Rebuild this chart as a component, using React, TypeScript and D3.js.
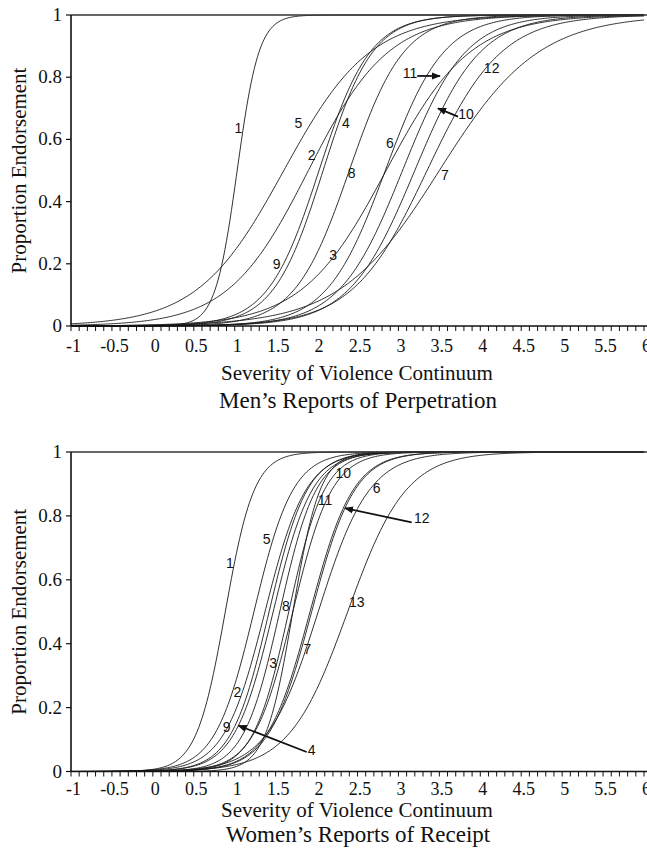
import React, { useEffect, useRef } from "react";
import * as d3 from "d3";

// item characteristic curves: location (P = .5) and slope per item
const MEN_ITEMS = ["1", "2", "3", "4", "5", "6", "7", "8", "9", "10", "11", "12"];
const MEN_LOCATION = [1.03, 1.9, 2.85, 2.08, 1.6, 2.84, 3.5, 2.4, 2.03, 3.2, 3.05, 3.35];
const MEN_SLOPE = [7.5, 2.05, 1.95, 3.3, 1.9, 2.8, 1.65, 3.0, 3.2, 2.5, 2.6, 2.2];
const MEN_LABEL_AT: [number, number][] = [
  [1.044, 0.636], [1.94, 0.55], [2.204, 0.228], [2.359, 0.652], [1.777, 0.652], [2.897, 0.589],
  [3.569, 0.486], [2.429, 0.493], [1.513, 0.199], [3.825, 0.682], [3.141, 0.813], [4.139, 0.829],
];
const MEN_ARROWS: [number, number, number, number][] = [
  [3.23, 0.804, 3.508, 0.804],
  [3.728, 0.673, 3.483, 0.7],
];

const WOMEN_ITEMS = ["1", "2", "3", "4", "5", "6", "7", "8", "9", "10", "11", "12", "13"];
const WOMEN_LOCATION = [0.885, 1.37, 1.71, 1.47, 1.235, 2.02, 1.92, 1.55, 1.42, 1.66, 1.71, 1.94, 2.38];
const WOMEN_SLOPE = [5.65, 4.0, 4.2, 4.2, 4.2, 3.2, 3.8, 4.5, 4.3, 4.6, 6.0, 3.8, 2.8];
const WOMEN_LABEL_AT: [number, number][] = [
  [0.942, 0.654], [1.032, 0.249], [1.471, 0.341], [1.94, 0.066], [1.391, 0.729], [2.734, 0.886],
  [1.887, 0.385], [1.626, 0.518], [0.902, 0.139], [2.326, 0.933], [2.103, 0.85], [3.284, 0.792],
  [2.49, 0.531],
];
const WOMEN_ARROWS: [number, number, number, number][] = [
  [3.162, 0.78, 2.347, 0.824],
  [1.879, 0.061, 1.044, 0.144],
];

const X_LABELS = [-1, -0.5, 0, 0.5, 1, 1.5, 2, 2.5, 3, 3.5, 4, 4.5, 5, 5.5, 6];
const Y_LABELS = [0, 0.2, 0.4, 0.6, 0.8, 1];

const SERIF = "'Liberation Serif', 'Times New Roman', serif";
const SANS = "'Liberation Sans', Arial, sans-serif";

type Panel = {
  items: string[];
  loc: number[];
  slope: number[];
  labelAt: [number, number][];
  arrows: [number, number, number, number][];
  top: number;
  bottom: number;
  tickBase: number;
  axisTitleBase: number;
  titleBase: number;
  title: string;
};

const PANELS: Panel[] = [
  {
    items: MEN_ITEMS, loc: MEN_LOCATION, slope: MEN_SLOPE, labelAt: MEN_LABEL_AT, arrows: MEN_ARROWS,
    top: 15, bottom: 326, tickBase: 352, axisTitleBase: 380, titleBase: 408,
    title: "Men\u2019s Reports of Perpetration",
  },
  {
    items: WOMEN_ITEMS, loc: WOMEN_LOCATION, slope: WOMEN_SLOPE, labelAt: WOMEN_LABEL_AT, arrows: WOMEN_ARROWS,
    top: 452, bottom: 771.5, tickBase: 795, axisTitleBase: 817, titleBase: 842,
    title: "Women\u2019s Reports of Receipt",
  },
];

export default function App() {
  const svgRef = useRef<SVGSVGElement | null>(null);

  useEffect(() => {
    const svg = d3.select(svgRef.current);
    svg.selectAll("*").remove();

    svg
      .append("defs")
      .append("marker")
      .attr("id", "head")
      .attr("viewBox", "0 0 10 10")
      .attr("refX", 9)
      .attr("refY", 5)
      .attr("markerWidth", 5)
      .attr("markerHeight", 5)
      .attr("orient", "auto")
      .append("path")
      .attr("d", "M0,1 L10,5 L0,9 Z")
      .attr("fill", "#111");

    const x = d3.scaleLinear().domain([-1, 6]).range([71, 644]);
    const grid = d3.range(-1, 6.0001, 0.02);

    PANELS.forEach((p) => {
      const y = d3.scaleLinear().domain([0, 1]).range([p.bottom, p.top]);
      const g = svg.append("g");

      // curves
      const line = d3
        .line<number>()
        .x((t) => x(t))
        .y((t) => y(t));
      p.items.forEach((_, i) => {
        const pts = grid.map((t) => 1 / (1 + Math.exp(-p.slope[i] * (t - p.loc[i]))));
        g.append("path")
          .attr("d", line.x((_t, j) => x(grid[j])).y((v) => y(v))(pts))
          .attr("fill", "none")
          .attr("stroke", "#1a1a1a")
          .attr("stroke-width", 0.9);
      });

      // top border at 1
      g.append("line")
        .attr("x1", x(-1))
        .attr("x2", 647)
        .attr("y1", y(1))
        .attr("y2", y(1))
        .attr("stroke", "#333")
        .attr("stroke-width", 1.6);

      // y axis
      g.append("line")
        .attr("x1", x(-1))
        .attr("x2", x(-1))
        .attr("y1", y(0))
        .attr("y2", y(1))
        .attr("stroke", "#111")
        .attr("stroke-width", 1.6);
      Y_LABELS.forEach((v) => {
        g.append("line")
          .attr("x1", x(-1) - 5)
          .attr("x2", x(-1))
          .attr("y1", y(v))
          .attr("y2", y(v))
          .attr("stroke", "#111")
          .attr("stroke-width", 1.2);
        g.append("text")
          .attr("x", 62)
          .attr("y", y(v) + 6)
          .attr("text-anchor", "end")
          .attr("font-family", SERIF)
          .attr("font-size", 19)
          .attr("fill", "#111")
          .text(String(v));
      });

      // x axis
      g.append("line")
        .attr("x1", x(-1))
        .attr("x2", 647)
        .attr("y1", y(0))
        .attr("y2", y(0))
        .attr("stroke", "#111")
        .attr("stroke-width", 1.6);
      d3.range(0, 71).forEach((k) => {
        const t = -1 + k * 0.1;
        g.append("line")
          .attr("x1", x(t))
          .attr("x2", x(t))
          .attr("y1", y(0))
          .attr("y2", y(0) + 5)
          .attr("stroke", "#111")
          .attr("stroke-width", 1);
      });
      X_LABELS.forEach((v) => {
        g.append("text")
          .attr("x", x(v) + 2.5)
          .attr("y", p.tickBase)
          .attr("text-anchor", "middle")
          .attr("font-family", SERIF)
          .attr("font-size", 18)
          .attr("fill", "#111")
          .text(String(v));
      });

      g.append("text")
        .attr("x", 357)
        .attr("y", p.axisTitleBase)
        .attr("text-anchor", "middle")
        .attr("font-family", SERIF)
        .attr("font-size", 21)
        .attr("fill", "#111")
        .text("Severity of Violence Continuum");

      g.append("text")
        .attr("x", 358)
        .attr("y", p.titleBase)
        .attr("text-anchor", "middle")
        .attr("font-family", SERIF)
        .attr("font-size", 23)
        .attr("fill", "#111")
        .text(p.title);

      const midY = (y(0) + y(1)) / 2;
      g.append("text")
        .attr("transform", `translate(26,${midY}) rotate(-90)`)
        .attr("text-anchor", "middle")
        .attr("font-family", SERIF)
        .attr("font-size", 21)
        .attr("fill", "#111")
        .text("Proportion Endorsement");

      // item labels
      p.items.forEach((name, i) => {
        const [lx, ly] = p.labelAt[i];
        g.append("text")
          .attr("x", x(lx))
          .attr("y", y(ly))
          .attr("dy", "0.36em")
          .attr("text-anchor", "middle")
          .attr("font-family", SERIF === "" ? "" : SANS)
          .attr("font-size", 14)
          .attr("fill", "#111")
          .text(name);
      });

      p.arrows.forEach(([x1, y1, x2, y2]) => {
        g.append("line")
          .attr("x1", x(x1))
          .attr("y1", y(y1))
          .attr("x2", x(x2))
          .attr("y2", y(y2))
          .attr("stroke", "#111")
          .attr("stroke-width", 1.8)
          .attr("marker-end", "url(#head)");
      });
    });
  }, []);

  return (
    <div style={{ position: "absolute", left: 0, top: 0, background: "#fff" }}>
      <svg ref={svgRef} width={647} height={851} style={{ display: "block" }} />
    </div>
  );
}
